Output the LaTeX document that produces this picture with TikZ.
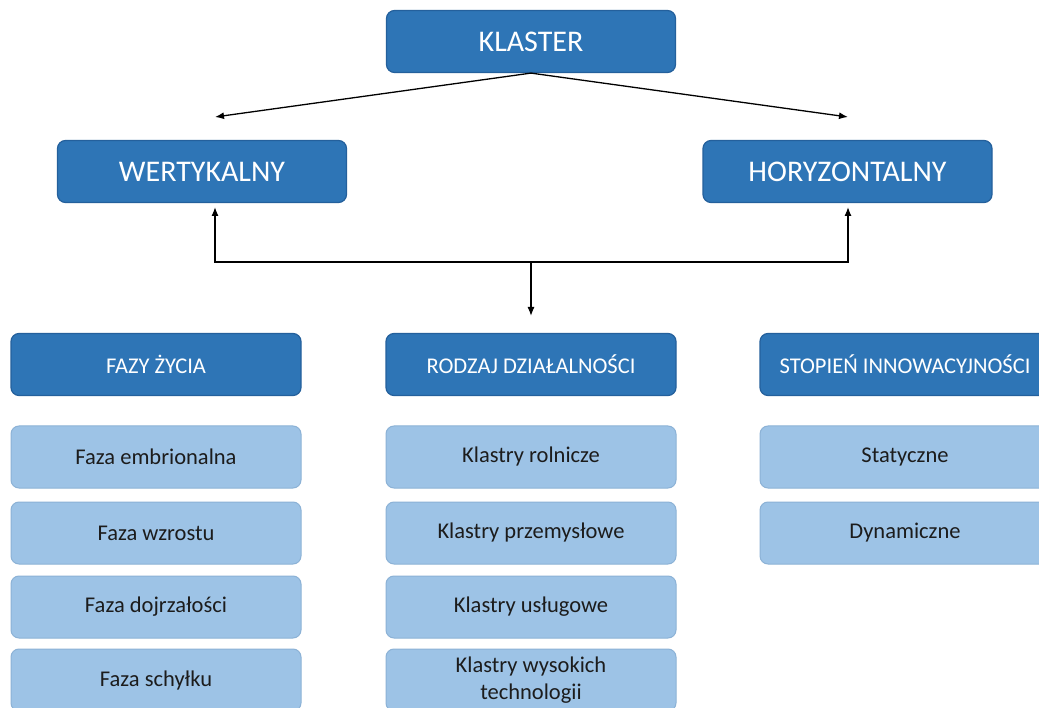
\documentclass[tikz,border=0pt]{standalone}
\usepackage{fontspec}
\setmainfont{Carlito}
\usetikzlibrary{arrows.meta}
\definecolor{darkbox}{RGB}{46,117,182}
\definecolor{darkedge}{RGB}{36,96,156}
\definecolor{lightbox}{RGB}{157,195,230}
\definecolor{lightedge}{RGB}{140,178,214}
\definecolor{itemtext}{RGB}{28,28,28}
\tikzset{
  mainbox/.style={draw=darkedge, fill=darkbox, line width=1.2pt, rounded corners=8pt,
    minimum width=289pt, minimum height=62pt, text=white, font=\fontsize{30}{31}\selectfont},
  headbox/.style={draw=darkedge, fill=darkbox, line width=1.2pt, rounded corners=8pt,
    minimum width=290pt, minimum height=62pt, text=white, font=\fontsize{22.5}{24}\selectfont},
  itembox/.style={draw=lightedge, fill=lightbox, line width=1pt, rounded corners=8pt,
    minimum width=290pt, minimum height=62pt, text=itemtext, align=center,
    font=\fontsize{22.5}{27}\selectfont},
  arr/.style={draw=black, line width=1.3pt, -{Latex[length=9pt,width=7pt]}}
}
\begin{document}
\begin{tikzpicture}[x=1pt,y=-1pt]
        \useasboundingbox (0,0) rectangle (1039,708);
        \fill[white] (0,0) rectangle (1039,708);

        % top
        \node[mainbox] (klaster) at (531,41.5) {KLASTER};
        \node[mainbox] (wert) at (202,171.5) {WERTYKALNY};
        \node[mainbox] (hory) at (847.5,171.5) {HORYZONTALNY};

        \coordinate (ltip) at (215,117);
        \coordinate (rtip) at (848,117);
        \draw[arr] (klaster.south) -- (ltip);
        \draw[arr] (klaster.south) -- (rtip);

        % link under the two types
        \coordinate (mid) at (531,262);
        \coordinate (wtip) at (215,207);
        \coordinate (htip) at (848,207);
        \coordinate (dtip) at (531,316);
        \draw[arr] (mid) -| (wtip);
        \draw[arr] (mid) -| (htip);
        \draw[arr] (mid) -- (dtip);

        % headers
        \node[headbox] (fazy) at (156,364.5) {FAZY ŻYCIA};
        \node[headbox] (rodzaj) at (531,364.5) {RODZAJ DZIAŁALNOŚCI};
        \node[headbox] (stopien) at (905,364.5) {STOPIEŃ INNOWACYJNOŚCI};

        % column 1
        \node[itembox] (f1) at (156,457) {Faza embrionalna};
        \node[itembox] (f2) at (156,533) {Faza wzrostu};
        \node[itembox] (f3) at (156,607) {Faza dojrzałości};
        \node[itembox] (f4) at (156,680) {Faza schyłku};

        % column 2
        \node[itembox] (r1) at (531,457) {Klastry rolnicze};
        \node[itembox] (r2) at (531,533) {Klastry przemysłowe};
        \node[itembox] (r3) at (531,607) {Klastry usługowe};
        \node[itembox] (r4) at (531,680) {Klastry wysokich\\technologii};

        % column 3
        \node[itembox] (s1) at (905,457) {Statyczne};
        \node[itembox] (s2) at (905,533) {Dynamiczne};
    \end{tikzpicture}
\end{document}
